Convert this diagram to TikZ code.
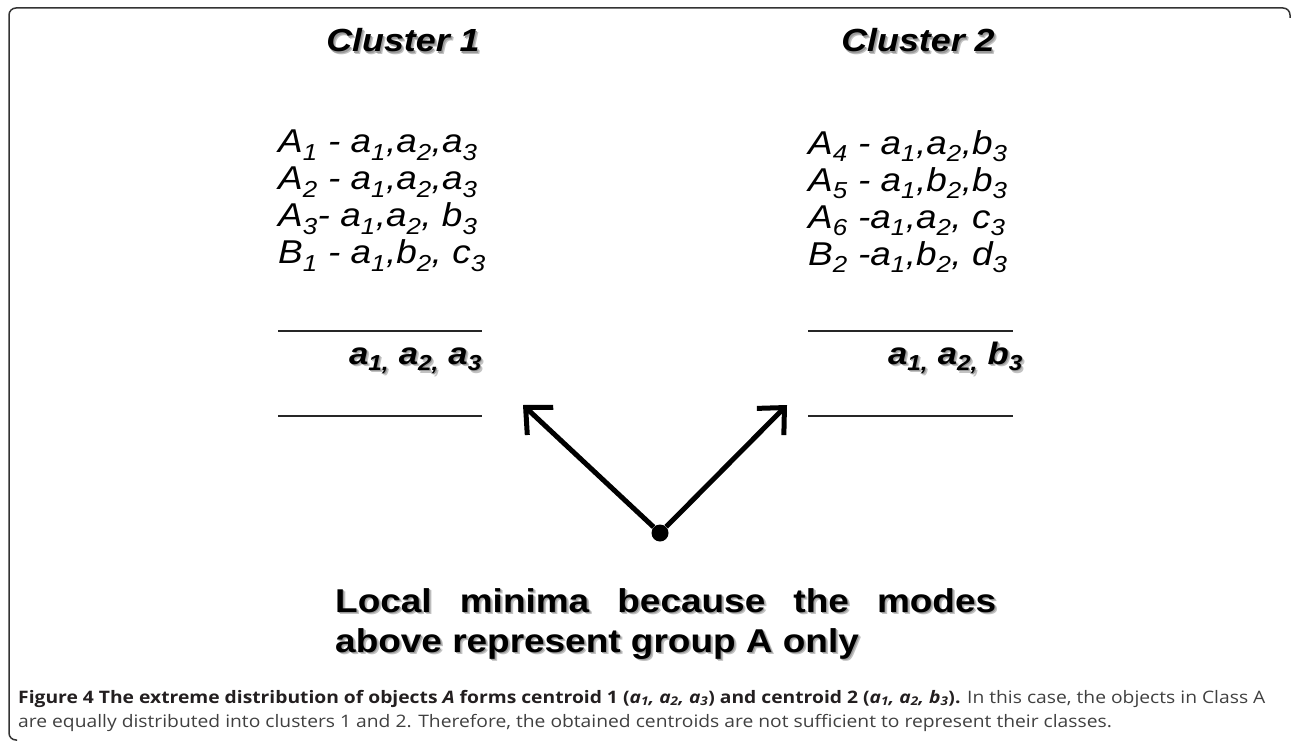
\documentclass[tikz,border=0pt]{standalone}
\usepackage{fontspec}
\setmainfont{Liberation Sans}[FakeStretch=1.12]
\newfontfamily\capfont{Open Sans}[FakeStretch=1.12]
\usetikzlibrary{arrows.meta}
\definecolor{cFrame}{HTML}{333333}
\definecolor{cCap}{HTML}{404040}
\definecolor{cCapB}{HTML}{231F20}
\definecolor{cShadow}{HTML}{9A9A9A}

\newcommand\lo[1]{\textsubscript{#1}}
\newcommand\withshadow[1]{\leavevmode\rlap{\kern2.5pt\raisebox{-2.5pt}{\color{cShadow!60}#1}}\rlap{\kern1.2pt\raisebox{-1.2pt}{\color{cShadow}#1}}#1}

\begin{document}
\begin{tikzpicture}[
  x=1pt,y=-1pt,
  title/.style={anchor=base,inner sep=0pt,font=\fontsize{32}{38}\selectfont\bfseries\itshape},
  members/.style={anchor=north west,align=left,inner sep=0pt,font=\fontsize{33}{37}\selectfont\itshape},
  centroid/.style={anchor=base east,inner sep=0pt,font=\fontsize{31}{37}\selectfont\bfseries\itshape},
  rule/.style={line width=1.5pt,black!85},
  dot/.style={circle,fill=black,inner sep=0pt,minimum size=17pt},
  vec/.style={line width=5pt,-{Straight Barb[length=20pt,width=38pt]}},
  note/.style={anchor=north west,align=left,inner sep=0pt,font=\fontsize{33}{40}\selectfont\bfseries},
  capline/.style={anchor=base west,inner sep=0pt,font=\capfont\fontsize{17.2}{20}\selectfont,text=cCap},
  frame/.style={line width=1.5pt,cFrame,rounded corners=7pt},
]
\useasboundingbox (0,0) rectangle (1292,741);

% ---------- FRAME ----------
\draw[frame] (1290,18) -- (1290,8) -- (9,8) -- (9,740) -- (17,740);

% ---------- CLUSTER TITLES ----------
\node[title] (t1) at (403,52) {\withshadow{Cluster 1}};
\node[title] (t2) at (918,52) {\withshadow{Cluster 2}};

% ---------- MEMBERS ----------
\node[members] (m1) at (278,130)
  {A\lo{1} - a\lo{1},a\lo{2},a\lo{3}\\
   A\lo{2} - a\lo{1},a\lo{2},a\lo{3}\\
   A\lo{3}- a\lo{1},a\lo{2}, b\lo{3}\\
   B\lo{1} - a\lo{1},b\lo{2}, c\lo{3}};
\node[members] (m2) at (808,130)
  {A\lo{4} - a\lo{1},a\lo{2},b\lo{3}\\
   A\lo{5} - a\lo{1},b\lo{2},b\lo{3}\\
   A\lo{6} -a\lo{1},a\lo{2}, c\lo{3}\\
   B\lo{2} -a\lo{1},b\lo{2}, d\lo{3}};

% ---------- CENTROIDS ----------
\draw[rule] (278,331) -- (482,331);
\draw[rule] (278,416) -- (482,416);
\draw[rule] (808,331) -- (1013,331);
\draw[rule] (808,416) -- (1013,416);
\node[centroid] (c1) at (482,364) {\withshadow{a\lo{1,} a\lo{2,} a\lo{3}}};
\node[centroid] (c2) at (1023,364) {\withshadow{a\lo{1,} a\lo{2,} b\lo{3}}};

% ---------- LOCAL MINIMUM ----------
\node[dot] (low) at (660,533) {};
\coordinate (tipL) at (523,405);
\coordinate (tipR) at (787,405);
\draw[vec] (low) -- (tipL);
\draw[vec] (low) -- (tipR);

\node[note] (msg) at (335,588)
  {\withshadow{\makebox[661pt][s]{Local minima because the modes}}\\
   \withshadow{above represent group A only}};

% ---------- CAPTION ----------
\node[capline] (cap1) at (18,703)
  {{\bfseries\color{cCapB}Figure 4 The extreme distribution of objects \textit{A} forms centroid 1 (\textit{a\lo{1}, a\lo{2}, a\lo{3}}) and centroid 2 (\textit{a\lo{1}, a\lo{2}, b\lo{3}}).} In this case, the objects in Class A};
\node[capline] (cap2) at (18,727)
  {are equally distributed into clusters 1 and 2. Therefore, the obtained centroids are not sufficient to represent their classes.};

\end{tikzpicture}
\end{document}
